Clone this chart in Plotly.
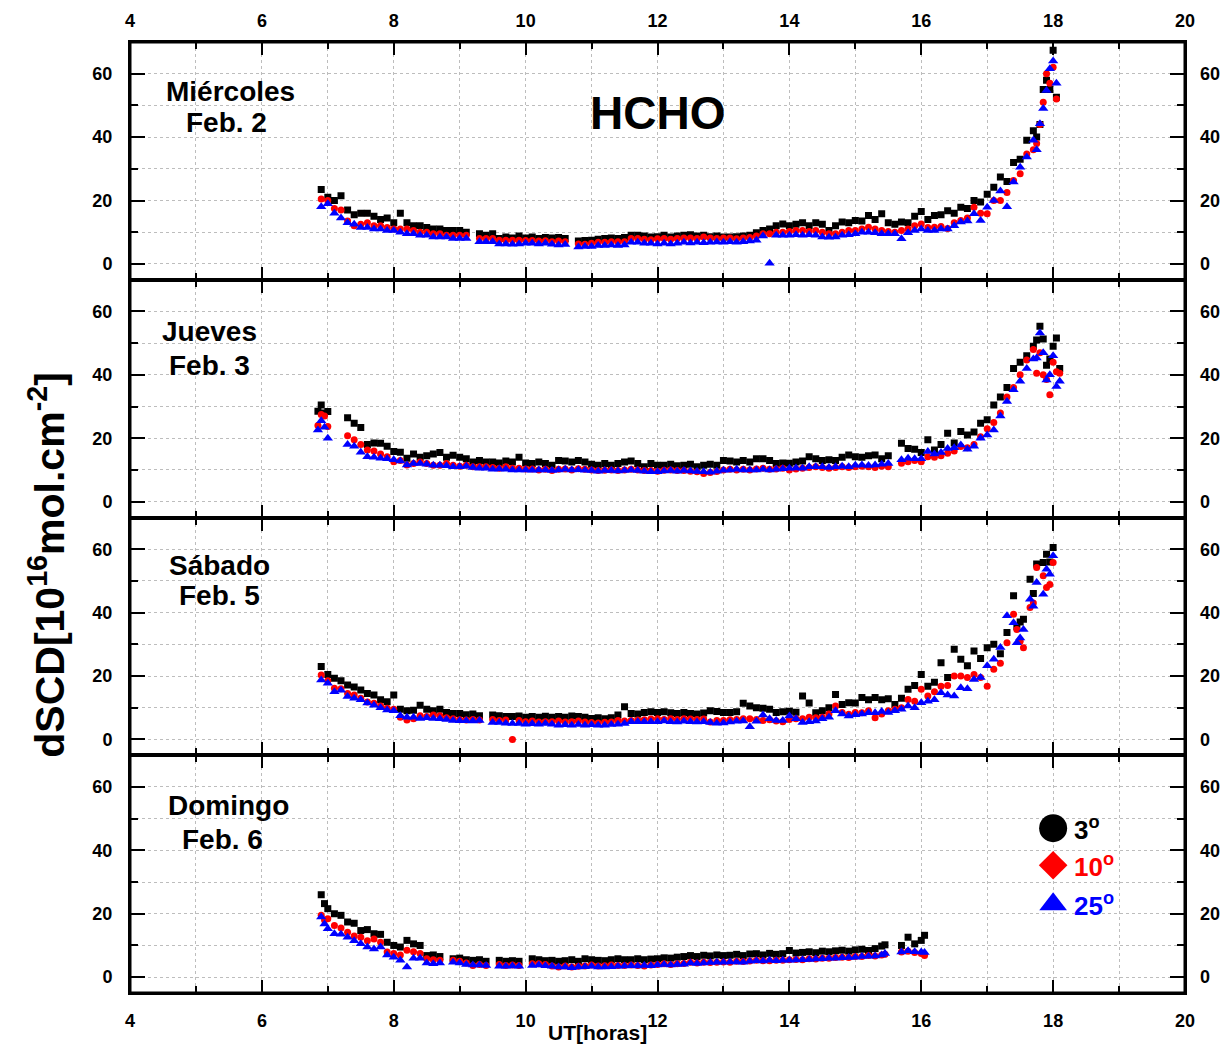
import plotly.graph_objects as go
from plotly.subplots import make_subplots

# ---------------- HCHO dSCD, elevation angles 3°, 10°, 25° ----------------
# Miércoles, Feb. 2
t_mie = [6.9, 7.0, 7.1, 7.2, 7.3, 7.4, 7.5, 7.6, 7.7, 7.8,
         7.9, 8.0, 8.1, 8.2, 8.3, 8.4, 8.5, 8.6, 8.7, 8.8,
         8.9, 9.0, 9.1, 9.3, 9.4, 9.5, 9.6, 9.7, 9.8, 9.9,
         10.0, 10.1, 10.2, 10.3, 10.4, 10.5, 10.6, 10.8, 10.9, 11.0,
         11.1, 11.2, 11.3, 11.4, 11.5, 11.6, 11.7, 11.8, 11.9, 12.0,
         12.1, 12.2, 12.3, 12.4, 12.5, 12.6, 12.7, 12.8, 12.9, 13.0,
         13.1, 13.2, 13.3, 13.4, 13.5, 13.6, 13.7, 13.8, 13.9, 14.0,
         14.1, 14.2, 14.3, 14.4, 14.5, 14.6, 14.7, 14.8, 14.9, 15.0,
         15.1, 15.2, 15.3, 15.4, 15.5, 15.6, 15.7, 15.8, 15.9, 16.0,
         16.1, 16.2, 16.3, 16.4, 16.5, 16.6, 16.7, 16.8, 16.9, 17.0,
         17.1, 17.2, 17.3, 17.4, 17.5, 17.6, 17.7, 17.75, 17.8, 17.85,
         17.9, 17.95, 18.0, 18.05]
mie_3 = [23.5, 21, 20, 21.5, 17, 15.5, 16, 16, 15, 14,
         14.5, 13, 16, 13, 12, 12, 11.5, 11, 11, 10.5,
         10.5, 10.5, 10, 9.5, 9, 9.5, 8, 8.5, 8.2, 8.8,
         8.2, 8.5, 8, 8.3, 8.2, 8.3, 8, 7.2, 7.4, 7.5,
         7.8, 8, 8.2, 8, 8.3, 9, 9, 8.8, 8.5, 8.6,
         9, 8.5, 8.8, 9, 9.2, 8.8, 9, 8.6, 8.8, 8.5,
         8.5, 8.6, 8.8, 9, 9.8, 10.5, 11, 12, 12.6, 12,
         12.5, 13, 12, 13, 12.5, 10.5, 12, 13.2, 13, 13.7,
         13.5, 15.3, 14, 15.8, 13, 12.5, 13.2, 13, 15, 16.5,
         14, 15.3, 15.5, 16.8, 16, 17.9, 17.5, 20, 19.5, 22,
         24.2, 27.4, 26, 32, 33, 39, 42, 40, 44, 55,
         57.9, 55, 67.4, 52.6]
mie_10 = [20.5, 20, 17.5, 17, 13.5, 12, 12.5, 13, 12, 12,
          11.5, 11, 11, 11, 10.5, 10, 10, 9.5, 9.5, 9,
          9, 9, 9, 8, 8, 8, 7.5, 7.5, 7.5, 7.5,
          7.4, 7.4, 7.2, 7.3, 7, 7.2, 7, 6.3, 6.2, 6.5,
          6.8, 6.8, 7, 7, 7, 8, 8, 7.8, 7.6, 7.9,
          8, 7.8, 8, 8.2, 8.2, 8, 8.5, 8.2, 8, 8.2,
          8.2, 7.9, 8.2, 8.3, 8.8, 9.5, 9.5, 10, 10, 10.2,
          10.5, 10.5, 10.2, 10.5, 10, 9.5, 9.5, 10, 10.5, 10.5,
          11, 11.6, 11, 10.5, 10.2, 10, 10.5, 11, 12, 12.6,
          11.5, 11.6, 11.8, 11.2, 13, 13.7, 14.5, 17.9, 16, 15.8,
          20, 20, 22.5, 26.3, 28.4, 34.7, 36, 38, 44, 51,
          60, 57, 62, 52]
mie_25 = [18, 19, 16, 14.5, 13, 12.5, 11.5, 11.5, 11, 11,
          10.5, 10.5, 10, 9.5, 9.5, 9, 9, 8.5, 8.5, 8.5,
          8, 8, 8, 7, 7, 7, 6.3, 6.3, 6.2, 6.3,
          6.5, 6.5, 6.3, 6.5, 6.2, 6, 6.1, 5.3, 5.5, 5.5,
          5.8, 5.8, 6, 5.8, 6, 6.8, 6.8, 6.5, 6.5, 6.3,
          6.5, 6.3, 6.5, 6.8, 6.6, 6.8, 6.7, 6.8, 6.9, 6.8,
          7, 6.8, 7, 7.2, 7.5, 8.8, 0.2, 9, 9, 9,
          9.2, 9, 9.2, 9, 8.5, 8.4, 8.5, 9, 9.2, 9.5,
          10, 10, 9.8, 9.5, 9.5, 9.5, 7.9, 9.8, 10.5, 11,
          10.5, 10.5, 11, 11, 12, 13.2, 13.5, 15.8, 13.7, 17.9,
          20, 23, 18, 25.8, 30.5, 33.7, 39, 36, 44.2, 49,
          54.7, 61.6, 64, 57]

# Jueves, Feb. 3
t_jue = [6.85, 6.9, 6.95, 7.0, 7.3, 7.4, 7.5, 7.6, 7.7, 7.8,
         7.9, 8.0, 8.1, 8.2, 8.3, 8.4, 8.5, 8.6, 8.7, 8.8,
         8.9, 9.0, 9.1, 9.2, 9.3, 9.4, 9.5, 9.6, 9.7, 9.8,
         9.9, 10.0, 10.1, 10.2, 10.3, 10.4, 10.5, 10.6, 10.7, 10.8,
         10.9, 11.0, 11.1, 11.2, 11.3, 11.4, 11.5, 11.6, 11.7, 11.8,
         11.9, 12.0, 12.1, 12.2, 12.3, 12.4, 12.5, 12.6, 12.7, 12.8,
         12.9, 13.0, 13.1, 13.2, 13.3, 13.4, 13.5, 13.6, 13.7, 13.8,
         13.9, 14.0, 14.1, 14.2, 14.3, 14.4, 14.5, 14.6, 14.7, 14.8,
         14.9, 15.0, 15.1, 15.2, 15.3, 15.4, 15.5, 15.7, 15.8, 15.9,
         16.0, 16.1, 16.2, 16.3, 16.4, 16.5, 16.6, 16.7, 16.8, 16.9,
         17.0, 17.1, 17.2, 17.3, 17.4, 17.5, 17.6, 17.7, 17.75, 17.8,
         17.85, 17.9, 17.95, 18.0, 18.05, 18.1]
jue_3 = [28.5, 30.5, 28, 28.4, 26.5, 24.7, 23.4, 18, 18.5, 18.4,
         17.5, 15.8, 15.6, 13.7, 15, 14, 14.5, 15, 15.5, 14,
         14.6, 14, 13.5, 12.5, 13, 12.5, 12.5, 12.2, 12.8, 12.5,
         14, 12.2, 12, 12.5, 12, 11.5, 13, 12.8, 12.5, 13,
         12.5, 11.8, 11.5, 12, 11.5, 12, 12.5, 12.8, 12, 11,
         12, 11.5, 11.5, 11.8, 11.3, 11.5, 11.8, 11, 11.5, 11.8,
         11.5, 13, 12.8, 12.5, 13, 12.5, 13.5, 13.5, 13, 12,
         12.2, 12.1, 12.5, 12.8, 14.2, 13.5, 13, 13.2, 13, 14,
         14.7, 14.2, 14, 14.5, 14.7, 13.5, 14.5, 18.4, 16.8, 16.5,
         15.5, 19.5, 16.3, 18, 21.6, 18.5, 22.1, 21, 22, 24.7,
         25.8, 30.5, 33, 36, 42, 44, 46, 49, 51, 55.3,
         51.3, 43, 45, 49, 51.6, 42]
jue_10 = [24, 27.5, 27, 23.7, 20.8, 19.5, 18, 16.3, 16, 15,
          14.2, 12.6, 13, 11.6, 12, 12.5, 12, 11.5, 11.5, 12,
          11.5, 11.2, 11.5, 11, 11, 11, 10.8, 10.5, 11, 10.5,
          10.5, 10.3, 10.3, 10, 10.2, 9.8, 10.2, 10.3, 10, 10.4,
          10.2, 10, 9.8, 9.9, 10, 9.8, 10, 10.2, 10, 9.8,
          9.8, 9.6, 9.9, 10, 9.8, 9.8, 9.6, 9.4, 8.9, 9.2,
          9.5, 10, 10.2, 10, 10.2, 10, 10.3, 10.5, 10.2, 10.3,
          10.5, 10, 10.3, 10.5, 10.8, 11, 10.8, 10.5, 10.8, 11,
          10.8, 11, 11.2, 11, 10.8, 11.2, 11, 12.1, 12.6, 13,
          12.6, 14.2, 14, 14.5, 15.3, 16, 17.4, 17, 18, 20.5,
          23, 25, 28, 33, 36, 40, 44.7, 48, 40.5, 47,
          40, 38.5, 33.7, 44, 41, 40.5]
jue_25 = [22.6, 25.5, 23.5, 20, 18, 17.5, 15.6, 14.2, 14, 13.7,
          13.5, 13.2, 12.8, 11.6, 12, 12, 11.8, 11.5, 11.5, 11.3,
          11, 11, 11.2, 10.8, 10.5, 10.5, 10.2, 10.3, 10.2, 10,
          10, 10, 9.9, 10, 10, 9.8, 10, 10.2, 10, 10.1,
          9.9, 9.8, 9.6, 9.8, 9.8, 9.7, 9.8, 10, 9.8, 9.6,
          9.4, 9.4, 9.7, 9.8, 9.6, 9.8, 9.7, 9.5, 9.4, 9.3,
          9.6, 9.9, 10, 10.2, 10, 10, 10, 10.2, 10, 10.2,
          10.4, 10.5, 10.6, 10.5, 11, 11, 11, 10.8, 11, 11.2,
          11, 11.5, 11.6, 11.4, 11.6, 11.8, 12, 13.2, 13.7, 13.5,
          13.5, 15.8, 15, 15.5, 16.8, 17, 17.9, 16.5, 17.5, 20,
          21, 22.6, 27, 31.6, 35.3, 38, 42, 45, 45.3, 53.2,
          47, 38.4, 40, 46, 36.3, 38]

# Sábado, Feb. 5
t_sab = [6.9, 7.0, 7.1, 7.2, 7.3, 7.4, 7.5, 7.6, 7.7, 7.8,
         7.9, 8.0, 8.1, 8.2, 8.3, 8.4, 8.5, 8.6, 8.7, 8.8,
         8.9, 9.0, 9.1, 9.2, 9.3, 9.5, 9.6, 9.7, 9.8, 9.9,
         10.0, 10.1, 10.2, 10.3, 10.4, 10.5, 10.6, 10.7, 10.8, 10.9,
         11.0, 11.1, 11.2, 11.3, 11.4, 11.5, 11.6, 11.7, 11.8, 11.9,
         12.0, 12.1, 12.2, 12.3, 12.4, 12.5, 12.6, 12.7, 12.8, 12.9,
         13.0, 13.1, 13.2, 13.3, 13.4, 13.5, 13.6, 13.7, 13.8, 13.9,
         14.0, 14.1, 14.2, 14.3, 14.4, 14.5, 14.6, 14.7, 14.8, 14.9,
         15.0, 15.1, 15.2, 15.3, 15.4, 15.5, 15.6, 15.7, 15.8, 15.9,
         16.0, 16.1, 16.2, 16.3, 16.4, 16.5, 16.6, 16.7, 16.8, 16.9,
         17.0, 17.1, 17.2, 17.3, 17.4, 17.45, 17.5, 17.55, 17.65, 17.7,
         17.75, 17.85, 17.9, 17.95, 18.0]
sab_3 = [23, 20.5, 19.3, 18.5, 17.2, 16.5, 15.6, 14.5, 14, 12.5,
         11.9, 14, 9.5, 9, 9.2, 10.8, 9.5, 9, 9.5, 8.5,
         8.2, 8.2, 7.8, 8, 7.5, 7.7, 7.5, 7.2, 7.2, 7.4,
         7, 7.2, 7, 7.3, 7, 7.2, 7, 7.4, 7.2, 7,
         6.6, 6.8, 6.5, 6.8, 7.7, 10.3, 8.2, 8, 8.5, 8.7,
         8.5, 8.7, 8.4, 8.2, 8.5, 8.2, 8, 8.3, 9, 8.8,
         8.5, 8.5, 8.7, 11.4, 10.5, 10, 9.8, 9.5, 8.5, 8.7,
         8.9, 8.6, 13.7, 11.5, 8.4, 9, 10, 14.2, 11, 11.6,
         11.5, 13.2, 12.5, 13.2, 12.5, 12.8, 11, 13, 15.8, 17,
         20.5, 16.8, 18, 24.2, 19.5, 28.4, 25.3, 23.2, 27.9, 25.5,
         28.9, 30, 27, 33.7, 45.3, 35.5, 37, 37.9, 50.5, 46,
         55.3, 55.8, 58.4, 56, 60.5]
sab_10 = [20.3, 18.5, 16.1, 16, 14.5, 14, 13, 11.8, 11.4, 10.5,
          9.8, 9.5, 7, 6.1, 6.5, 7.5, 7.2, 7.7, 7.5, 6.8,
          6.5, 6.2, 6.1, 6.3, 6.1, 6.3, 6, 6.1, 0, 6,
          5.6, 5.8, 5.5, 5.6, 5.6, 5.8, 5.5, 5.6, 5.8, 5.5,
          5.3, 5.2, 5.4, 5.5, 6, 5.8, 6, 6.1, 6.2, 6.4,
          6.5, 6.3, 6.5, 6.3, 6.5, 6.4, 6.3, 6.4, 5.5, 6,
          6, 6.2, 6.3, 6.5, 6.5, 6.3, 6, 6.2, 5.8, 5.6,
          6.3, 6.5, 6.5, 7, 6.8, 7, 8, 10.5, 8.5, 7.9,
          8.5, 8.4, 9, 6.8, 8, 9, 9.5, 10, 12.6, 12,
          15.8, 13.7, 15, 16.8, 17, 20, 20, 19.5, 20.5, 19.5,
          16.8, 22.1, 24, 30.5, 39.5, 34.7, 31, 28.9, 41.6, 43,
          54.2, 51.6, 47.9, 48.9, 55.8]
sab_25 = [18.7, 17.7, 15, 15.5, 13.5, 13, 12.5, 11.5, 10.8, 10,
          9.3, 9, 7.5, 7, 7, 6.6, 6.8, 6.6, 6.5, 6.3,
          6, 5.9, 5.9, 5.8, 6, 5.3, 5.3, 5.1, 5, 5,
          4.8, 4.9, 4.8, 5, 4.8, 4.5, 4.6, 4.5, 4.7, 4.5,
          4.6, 4.5, 4.5, 4.7, 4.8, 5, 5.6, 5.6, 5.6, 5.6,
          5.6, 5.8, 5.6, 5.5, 5.7, 5.6, 5.5, 5.6, 5.3, 5.1,
          5.2, 5.5, 5.7, 5.8, 4, 5.7, 7.7, 6.5, 6, 6,
          7.4, 6.5, 5.3, 5.6, 5.8, 6.5, 7, 9, 8, 7.4,
          7.8, 8, 8.4, 8.4, 8.8, 8.5, 9, 9.5, 10.5, 10,
          11.6, 12, 12.5, 14.7, 14, 13.7, 16.3, 16, 18.9, 19.5,
          23.2, 25.3, 29, 39, 36.8, 30.5, 32, 34.7, 44.2, 42,
          49.5, 45.8, 53.7, 52.1, 57.9]

# Domingo, Feb. 6
t_dom = [6.9, 6.95, 7.0, 7.1, 7.2, 7.3, 7.4, 7.5, 7.6, 7.7,
         7.8, 7.9, 8.0, 8.1, 8.2, 8.3, 8.4, 8.5, 8.6, 8.7,
         8.9, 9.0, 9.1, 9.2, 9.3, 9.4, 9.6, 9.7, 9.8, 9.9,
         10.1, 10.2, 10.3, 10.4, 10.5, 10.6, 10.7, 10.8, 10.9, 11.0,
         11.1, 11.2, 11.3, 11.4, 11.5, 11.6, 11.7, 11.8, 11.9, 12.0,
         12.1, 12.2, 12.3, 12.4, 12.5, 12.6, 12.7, 12.8, 12.9, 13.0,
         13.1, 13.2, 13.3, 13.4, 13.5, 13.6, 13.7, 13.8, 13.9, 14.0,
         14.1, 14.2, 14.3, 14.4, 14.5, 14.6, 14.7, 14.8, 14.9, 15.0,
         15.1, 15.2, 15.3, 15.4, 15.45, 15.7, 15.8, 15.9, 16.0, 16.05]
dom_3 = [26, 23.2, 21.6, 20, 19.5, 17.4, 17, 14.7, 15, 13.7,
         13.5, 11, 10, 9.5, 11.6, 10.5, 10, 6.8, 7, 6.5,
         5.8, 6, 5.5, 5.3, 5.5, 5, 5.3, 5, 5.2, 5,
         5.8, 5.5, 5.2, 5.3, 5, 5.2, 5.5, 5, 5.8, 5.5,
         5.3, 5.2, 5.5, 5.8, 5.5, 5.5, 5.8, 5.5, 5.7, 5.8,
         6.1, 6, 6.3, 6.5, 6.8, 6.5, 6.9, 6.7, 7, 6.8,
         6.9, 7.2, 6.8, 7.3, 7.4, 7, 7.5, 7.2, 7.4, 8.4,
         7.6, 7.8, 8, 7.7, 8.2, 8, 8.3, 8.5, 8.2, 8.6,
         8.8, 8.4, 9, 9.8, 10.2, 10, 12.6, 10.5, 11.6, 13.2]
dom_10 = [19.5, 18, 18.4, 16.3, 15.5, 14.2, 13, 12.6, 11.5, 12,
          11, 7.9, 7.5, 7, 8.5, 8, 7.5, 5.8, 5.5, 5.3,
          5.3, 5, 4.5, 3.7, 4, 3.7, 4, 3.7, 3.8, 3.7,
          4.2, 4.2, 4, 3.5, 3.2, 3.5, 3.2, 3.4, 3.5, 3.8,
          3.5, 3.6, 3.8, 3.7, 3.7, 3.8, 3.7, 3.5, 3.8, 4,
          4.2, 4, 4.2, 4.3, 4.7, 4.5, 4.7, 4.6, 4.7, 4.8,
          4.7, 5, 4.9, 5.1, 5.3, 5.2, 5.2, 5.3, 5.3, 5.5,
          5.6, 5.5, 5.8, 5.7, 6, 6, 6.2, 6.3, 6.2, 6.5,
          6.5, 6.8, 6.7, 7, 7.2, 7.9, 8.2, 7.8, 7.5, 6.8]
dom_25 = [19, 16.8, 15.3, 13.7, 13.5, 12.6, 11.5, 10.5, 9.5, 8.9,
          9.5, 7, 6.3, 5.3, 3.2, 6, 6, 4.5, 4.2, 4.5,
          4.7, 4.5, 4, 3.8, 3.8, 3.7, 3.4, 3.4, 3.5, 3.4,
          3.7, 3.8, 3.6, 3.4, 3.2, 3.2, 3.0, 3.2, 3.3, 3.4,
          3.2, 3.2, 3.3, 3.4, 3.5, 3.6, 3.5, 3.7, 3.6, 3.8,
          4, 3.8, 4, 4.1, 4.5, 4.3, 4.5, 4.6, 4.7, 4.7,
          4.8, 4.8, 4.7, 5, 5.2, 5.1, 5.3, 5.2, 5.3, 5.3,
          5.4, 5.5, 5.6, 5.7, 5.8, 6, 6, 6.1, 6.2, 6.3,
          6.5, 6.6, 6.7, 7, 7.5, 7.9, 8.3, 8, 7.9, 7.8]

day_names = ["Miércoles", "Jueves", "Sábado", "Domingo"]
day_dates = ["Feb. 2", "Feb. 3", "Feb. 5", "Feb. 6"]
angle_labels = ["3<sup>o</sup>", "10<sup>o</sup>", "25<sup>o</sup>"]

# ---------------- styling ----------------
FONT = "Liberation Sans, Arial, sans-serif"
GRID = "#bdbdbd"
colors = ["#000000", "#ff0000", "#0000ff"]
symbols = ["square", "circle", "triangle-up"]
msizes = [7, 7, 9]

series = [
    (t_mie, [mie_3, mie_10, mie_25]),
    (t_jue, [jue_3, jue_10, jue_25]),
    (t_sab, [sab_3, sab_10, sab_25]),
    (t_dom, [dom_3, dom_10, dom_25]),
]
# label anchor points (x, y) for day name and date, per panel
label_pos = [((5.52, 54.4), (5.46, 44.7)),
             ((5.2, 53.6), (5.2, 42.9)),
             ((5.35, 54.9), (5.35, 45.4)),
             ((5.5, 54.3), (5.4, 43.5))]

fig = make_subplots(rows=4, cols=1, vertical_spacing=0,
                    specs=[[{"secondary_y": True}]] * 4)

for i, (t, vals) in enumerate(series):
    row = i + 1
    for v, c, s, ms in zip(vals, colors, symbols, msizes):
        fig.add_trace(go.Scatter(x=t, y=v, mode="markers",
                                 marker=dict(symbol=s, size=ms, color=c, line=dict(width=0)),
                                 showlegend=False, hoverinfo="skip"),
                      row=row, col=1)
    # right-hand axis carries only tick labels
    fig.add_trace(go.Scatter(x=[], y=[], showlegend=False, hoverinfo="skip"),
                  row=row, col=1, secondary_y=True)
    (nx, ny), (dx, dy) = label_pos[i]
    fig.add_annotation(x=nx, y=ny, text=day_names[i], showarrow=False,
                       font=dict(family=FONT, size=28, color="black", weight="bold"),
                       row=row, col=1)
    fig.add_annotation(x=dx, y=dy, text=day_dates[i], showarrow=False,
                       font=dict(family=FONT, size=28, color="black", weight="bold"),
                       row=row, col=1)

# title of the species
fig.add_annotation(x=12, y=47.5, text="HCHO", showarrow=False,
                   font=dict(family=FONT, size=46, color="black", weight="bold"),
                   row=1, col=1)

# legend keys drawn inside the last panel
key_x = 18.0
key_y = [47, 35.3, 23]
key_sym = ["circle", "diamond", "triangle-up"]
key_size = [28, 22, 24]
for ky, ks, kz, kc, kl in zip(key_y, key_sym, key_size, colors, angle_labels):
    fig.add_trace(go.Scatter(x=[key_x], y=[ky], mode="markers",
                             marker=dict(symbol=ks, size=kz, color=kc, line=dict(width=0)),
                             showlegend=False, hoverinfo="skip"),
                  row=4, col=1)
    fig.add_annotation(x=key_x + 0.28, y=ky, text=kl, showarrow=False, xanchor="left",
                       font=dict(family=FONT, size=26, color=kc, weight="bold"),
                       row=4, col=1)

tickfont = dict(family=FONT, size=18, color="black", weight="bold")

fig.update_xaxes(domain=[0, 1], range=[4, 20], tick0=4, dtick=2, ticks="inside", ticklen=13,
                 tickwidth=2, tickcolor="black", showline=True, linewidth=2,
                 linecolor="black", mirror="ticks", showgrid=True, gridcolor=GRID,
                 griddash="dot", gridwidth=1.3, zeroline=False, automargin=False,
                 minor=dict(dtick=1, ticks="inside", ticklen=7, tickwidth=2,
                            tickcolor="black", showgrid=True, gridcolor=GRID,
                            griddash="dot", gridwidth=1.3),
                 tickfont=tickfont, showticklabels=False)
fig.update_xaxes(showticklabels=True, side="top", ticklabelstandoff=6, row=1, col=1)
fig.update_xaxes(showticklabels=True, ticklabelstandoff=10, row=4, col=1)

fig.update_yaxes(range=[-5, 70], tick0=0, dtick=20, ticks="inside", ticklen=15,
                 tickwidth=2, tickcolor="black", showline=True, linewidth=2,
                 linecolor="black", mirror="ticks", showgrid=True, gridcolor=GRID,
                 griddash="dot", gridwidth=1.3, zeroline=False, automargin=False,
                 minor=dict(dtick=10, ticks="inside", ticklen=8, tickwidth=2,
                            tickcolor="black", showgrid=True, gridcolor=GRID,
                            griddash="dot", gridwidth=1.3),
                 tickfont=tickfont, ticklabelstandoff=12, secondary_y=False)
fig.update_yaxes(range=[-5, 70], tick0=0, dtick=20, ticks="", showline=False,
                 showgrid=False, zeroline=False, showticklabels=True, automargin=False,
                 tickfont=tickfont, ticklabelstandoff=14, secondary_y=True)

# outer frame of the stacked panels
fig.add_shape(type="rect", xref="paper", yref="paper", x0=0, x1=1, y0=0, y1=1,
              line=dict(color="black", width=3), fillcolor="rgba(0,0,0,0)", layer="above")

# axis titles
fig.add_annotation(xref="paper", yref="paper", x=-0.079, y=0.45,
                   text="dSCD[10<sup>16</sup>mol.cm<sup>-2</sup>]", textangle=-90,
                   showarrow=False, xanchor="center", yanchor="middle",
                   font=dict(family=FONT, size=41, color="black", weight="bold"))
fig.add_annotation(xref="paper", yref="paper", x=0.4427, y=-0.0415,
                   text="UT[horas]", showarrow=False, xanchor="center", yanchor="middle",
                   font=dict(family=FONT, size=21, color="black", weight="bold"))

fig.update_layout(width=1225, height=1044,
                  margin=dict(l=130, r=40, t=42, b=51, autoexpand=False),
                  paper_bgcolor="white", plot_bgcolor="white",
                  showlegend=False)

fig.write_html("out.html")
